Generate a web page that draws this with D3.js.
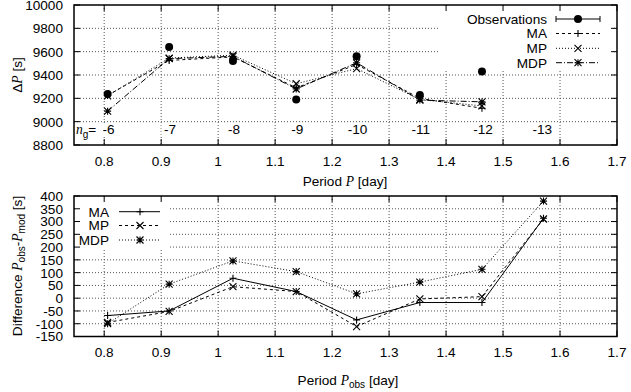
<!DOCTYPE html>
<html><head><meta charset="utf-8">
<script src="https://cdn.jsdelivr.net/npm/d3@7"></script>
<style>body{margin:0;background:#fff}svg{display:block}text{font-family:"Liberation Sans",Arial,sans-serif;fill:#000}</style>
</head><body>
<svg id="c" width="631" height="392"></svg>
<script>
// ---------- data ----------
const xTicks = [0.8, 0.9, 1.0, 1.1, 1.2, 1.3, 1.4, 1.5, 1.6, 1.7];
const topYTicks = [8800, 9000, 9200, 9400, 9600, 9800, 10000];
const botYTicks = [-150, -100, -50, 0, 50, 100, 150, 200, 250, 300, 350, 400];

const periods = [0.806, 0.914, 1.026, 1.137, 1.243, 1.354, 1.463];
const obs     = [9237, 9640, 9520, 9189, 9560, 9229, 9431];
const obsErr  = [12, 12, 12, 12, 12, 12, 15];
const topMA   = [9225, 9525, 9555, 9290, 9490, 9200, 9115];
const topMP   = [9222, 9545, 9570, 9325, 9455, 9190, 9135];
const topMDP  = [9090, 9540, 9560, 9280, 9505, 9185, 9170];

const ngPeriods = [0.806, 0.914, 1.026, 1.137, 1.243, 1.354, 1.463, 1.567];
const ngLabels  = ["-6", "-7", "-8", "-9", "-10", "-11", "-12", "-13"];

const diffPeriods = [0.806, 0.914, 1.026, 1.137, 1.243, 1.354, 1.463, 1.571];
const diffMA  = [-68, -50, 78, 26, -85, -17, -17, 313];
const diffMP  = [-95, -52, 45, 26, -111, -3, 6, 310];
const diffMDP = [-100, 55, 146, 104, 17, 63, 113, 380];

// ---------- layout ----------
const svg = d3.select("#c");
const L = 74, R = 617;
const x = d3.scaleLinear().domain([0.747, 1.7]).range([L, R]);
const yTop = d3.scaleLinear().domain([8800, 10000]).range([145, 5]);
const yBot = d3.scaleLinear().domain([-150, 400]).range([336.5, 196]);
const FS = 13.6;

// marker paths
function marker(g, type, cx, cy, s) {
  s = s || 3.5;
  let d = "";
  if (type === "plus" || type === "star") d += `M${cx-s},${cy}H${cx+s}M${cx},${cy-s}V${cy+s}`;
  if (type === "cross" || type === "star") d += `M${cx-s},${cy-s}L${cx+s},${cy+s}M${cx-s},${cy+s}L${cx+s},${cy-s}`;
  if (type === "circle") {
    g.append("circle").attr("cx", cx).attr("cy", cy).attr("r", 4).attr("fill", "#000");
    return;
  }
  g.append("path").attr("d", d).attr("stroke", "#000").attr("stroke-width", 1.1).attr("fill", "none");
}

function panel(y, yTicks, top, bottom) {
  const g = svg.append("g");
  // grid
  xTicks.forEach(t => {
    if (t <= 0.75 || t >= 1.7) return;
    g.append("line").attr("x1", x(t)).attr("x2", x(t)).attr("y1", top).attr("y2", bottom)
      .attr("stroke", "#555").attr("stroke-width", 1).attr("stroke-dasharray", "1,2");
  });
  yTicks.forEach(t => {
    if (y(t) <= top + 0.5 || y(t) >= bottom - 0.5) return;
    g.append("line").attr("x1", L).attr("x2", R).attr("y1", y(t)).attr("y2", y(t))
      .attr("stroke", "#555").attr("stroke-width", 1).attr("stroke-dasharray", "1,2");
  });
  return g;
}

function frame(y, yTicks, top, bottom, labelY) {
  const g = svg.append("g");
  // ticks inward, mirrored
  xTicks.forEach(t => {
    g.append("line").attr("x1", x(t)).attr("x2", x(t)).attr("y1", bottom).attr("y2", bottom - 6).attr("stroke", "#000");
    g.append("line").attr("x1", x(t)).attr("x2", x(t)).attr("y1", top).attr("y2", top + 6).attr("stroke", "#000");
    g.append("text").attr("x", x(t)).attr("y", labelY).attr("text-anchor", "middle")
      .attr("font-size", FS).text(d3.format("")(t));
  });
  yTicks.forEach(t => {
    g.append("line").attr("x1", L).attr("x2", L + 6).attr("y1", y(t)).attr("y2", y(t)).attr("stroke", "#000");
    g.append("line").attr("x1", R).attr("x2", R - 6).attr("y1", y(t)).attr("y2", y(t)).attr("stroke", "#000");
    g.append("text").attr("x", 63).attr("y", y(t)).attr("dy", "0.36em").attr("text-anchor", "end")
      .attr("font-size", FS).text(t);
  });
  g.append("rect").attr("x", L).attr("y", top).attr("width", R - L).attr("height", bottom - top)
    .attr("fill", "none").attr("stroke", "#000").attr("stroke-width", 1.5);
}

function series(g, xs, ys, y, dash, mtype) {
  const line = d3.line().x((d, i) => x(xs[i])).y(d => y(d));
  g.append("path").attr("d", line(ys)).attr("fill", "none").attr("stroke", "#000")
    .attr("stroke-width", 1).attr("stroke-dasharray", dash);
  ys.forEach((v, i) => marker(g, mtype, x(xs[i]), y(v)));
}

// ---------- top panel ----------
const gTop = panel(yTop, topYTicks, 5, 145);
// legend box (white)
gTop.append("rect").attr("x", 440).attr("y", 6).attr("width", 172).attr("height", 64).attr("fill", "#fff");
// n_g labels with white background
ngLabels.forEach((lab, i) => {
  const cx = x(ngPeriods[i]) + 1;
  const w = lab.length * 7.6 + 2;
  gTop.append("rect").attr("x", cx - w / 2).attr("y", 124).attr("width", w).attr("height", 13).attr("fill", "#fff");
  gTop.append("text").attr("x", cx).attr("y", 134).attr("text-anchor", "middle").attr("font-size", FS).text(lab);
});
gTop.append("rect").attr("x", 75).attr("y", 124).attr("width", 28).attr("height", 16).attr("fill", "#fff");
const ngT = gTop.append("text").attr("x", 76).attr("y", 134).attr("font-size", FS);
ngT.append("tspan").attr("font-style", "italic").attr("font-family", "'Liberation Serif',serif").text("n");
ngT.append("tspan").attr("font-size", 10).attr("dy", 4).text("g");
ngT.append("tspan").attr("dy", -4).text("=");

series(gTop, periods, topMA, yTop, "3,3", "plus");
series(gTop, periods, topMP, yTop, "1,2", "cross");
series(gTop, periods, topMDP, yTop, "6,2,1,2", "star");
obs.forEach((v, i) => {
  const cx = x(periods[i]);
  gTop.append("line").attr("x1", cx).attr("x2", cx).attr("y1", yTop(v - obsErr[i])).attr("y2", yTop(v + obsErr[i])).attr("stroke", "#000").attr("stroke-width", 1.2);
  [v - obsErr[i], v + obsErr[i]].forEach(e => gTop.append("line").attr("x1", cx - 3).attr("x2", cx + 3).attr("y1", yTop(e)).attr("y2", yTop(e)).attr("stroke", "#000"));
  marker(gTop, "circle", cx, yTop(v));
});

// top legend
const topLeg = [["Observations", null, "circle"], ["MA", "3,3", "plus"], ["MP", "1,2", "cross"], ["MDP", "6,2,1,2", "star"]];
const topLegY = [19, 33.5, 48.3, 62.7];
topLeg.forEach((e, i) => {
  const yy = topLegY[i];
  gTop.append("text").attr("x", 547).attr("y", yy).attr("dy", "0.36em").attr("text-anchor", "end").attr("font-size", FS).text(e[0]);
  gTop.append("line").attr("x1", 556).attr("x2", 600).attr("y1", yy).attr("y2", yy).attr("stroke", "#000")
    .attr("stroke-dasharray", e[1] || null);
  if (i === 0) {
    [556, 600].forEach(xx => gTop.append("line").attr("x1", xx).attr("x2", xx).attr("y1", yy - 3).attr("y2", yy + 3).attr("stroke", "#000"));
  }
  marker(gTop, e[2], 578, yy);
});
frame(yTop, topYTicks, 5, 145, 166);

// ---------- bottom panel ----------
const gBot = panel(yBot, botYTicks, 196, 336.5);
gBot.append("rect").attr("x", 75).attr("y", 197).attr("width", 94).attr("height", 53).attr("fill", "#fff");
series(gBot, diffPeriods, diffMA, yBot, null, "plus");
series(gBot, diffPeriods, diffMP, yBot, "3,3", "cross");
series(gBot, diffPeriods, diffMDP, yBot, "1,2", "star");
const botLeg = [["MA", null, "plus"], ["MP", "3,3", "cross"], ["MDP", "1,2", "star"]];
const botLegY = [211.7, 225.5, 240];
botLeg.forEach((e, i) => {
  const yy = botLegY[i];
  gBot.append("text").attr("x", 109).attr("y", yy).attr("dy", "0.36em").attr("text-anchor", "end").attr("font-size", FS).text(e[0]);
  gBot.append("line").attr("x1", 119).attr("x2", 160).attr("y1", yy).attr("y2", yy).attr("stroke", "#000")
    .attr("stroke-dasharray", e[1]);
  marker(gBot, e[2], 140, yy);
});
frame(yBot, botYTicks, 196, 336.5, 357);

// ---------- axis titles ----------
const t1 = svg.append("text").attr("transform", "translate(22,75) rotate(-90)").attr("text-anchor", "middle").attr("font-size", FS);
t1.append("tspan").text("Δ");
t1.append("tspan").attr("font-style", "italic").attr("font-family", "'Liberation Serif',serif").text("P");
t1.append("tspan").text(" [s]");

const t2 = svg.append("text").attr("x", 345).attr("y", 186).attr("text-anchor", "middle").attr("font-size", FS);
t2.append("tspan").text("Period ");
t2.append("tspan").attr("font-style", "italic").attr("font-family", "'Liberation Serif',serif").text("P");
t2.append("tspan").text(" [day]");

const t3 = svg.append("text").attr("transform", "translate(22,266) rotate(-90)").attr("text-anchor", "middle").attr("font-size", FS);
t3.append("tspan").text("Difference ");
t3.append("tspan").attr("font-style", "italic").attr("font-family", "'Liberation Serif',serif").text("P");
t3.append("tspan").attr("font-size", 10).attr("dy", 3).text("obs");
t3.append("tspan").attr("dy", -3).text("-");
t3.append("tspan").attr("font-style", "italic").attr("font-family", "'Liberation Serif',serif").text("P");
t3.append("tspan").attr("font-size", 10).attr("dy", 3).text("mod");
t3.append("tspan").attr("dy", -3).text(" [s]");

const t4 = svg.append("text").attr("x", 348).attr("y", 385).attr("text-anchor", "middle").attr("font-size", FS);
t4.append("tspan").text("Period ");
t4.append("tspan").attr("font-style", "italic").attr("font-family", "'Liberation Serif',serif").text("P");
t4.append("tspan").attr("font-size", 10).attr("dy", 3).text("obs");
t4.append("tspan").attr("dy", -3).text(" [day]");
</script>
</body></html>
